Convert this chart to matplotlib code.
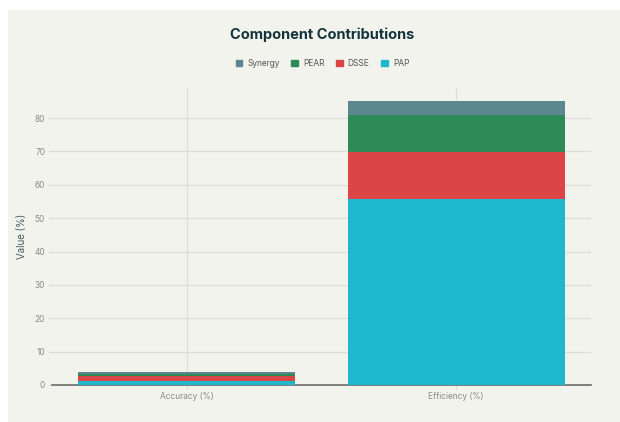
import matplotlib
matplotlib.use("Agg")
import matplotlib.pyplot as plt
import matplotlib.patches as mpatches
import numpy as np

# ── Data ─────────────────────────────────────────────────────────────────────
categories = ["Accuracy (%)", "Efficiency (%)"]
pap     = [1.2, 55.8]
dsse    = [1.4, 14.1]
pear    = [0.8, 11.0]
synergy = [0.4, 4.1]

series = [("PAP", pap), ("DSSE", dsse), ("PEAR", pear), ("Synergy", synergy)]
yticks = [0, 10, 20, 30, 40, 50, 60, 70, 80]

# ── Style ────────────────────────────────────────────────────────────────────
BG     = "#F3F3EE"
COLORS = {"PAP": "#1FB8CD", "DSSE": "#DB4545", "PEAR": "#2E8B57", "Synergy": "#5D878F"}
TITLE  = "#13343B"
TICK   = "#8a8a86"
GRID   = "#dddcd6"

plt.rcParams["font.family"] = ["Inter", "DejaVu Sans"]

fig = plt.figure(figsize=(6.2, 4.22), dpi=100, facecolor="white")

# off-white panel (page crop leaves a white strip on the left and top)
fig.patches.append(mpatches.Rectangle((8 / 620, 0), 1, 1 - 10 / 422,
                                      transform=fig.transFigure,
                                      facecolor=BG, edgecolor="none", zorder=-5))

ax = fig.add_axes([52 / 620, 37 / 422, 539 / 620, 297 / 422])
ax.set_facecolor(BG)
ax.set_zorder(1)

x = np.arange(len(categories))
bottom = np.zeros(len(categories))
for name, vals in series:
    ax.bar(x, vals, width=0.805, bottom=bottom, color=COLORS[name],
           linewidth=0, zorder=3)
    bottom += np.array(vals)

ax.set_xlim(-0.5, 1.5)
ax.set_ylim(0, 89)
ax.set_xticks(x)
ax.set_xticklabels(categories, fontsize=6, color=TICK)
ax.set_yticks(yticks)
ax.set_yticklabels([str(t) for t in yticks], fontsize=6, color=TICK)
ax.tick_params(axis="both", length=3, color=GRID, pad=2)
ax.set_ylabel("Value (%)", fontsize=7, color="#3d5a60", labelpad=5)

ax.grid(True, color=GRID, linewidth=0.8, zorder=0)
ax.set_axisbelow(True)
for side in ["top", "right", "left"]:
    ax.spines[side].set_visible(False)
ax.spines["bottom"].set_color("#6b6b6b")
ax.spines["bottom"].set_linewidth(1.2)

fig.text(0.52, 0.917, "Component Contributions", ha="center", va="center",
         fontsize=10.5, fontweight="bold", color=TITLE)

# legend in order Synergy, PEAR, DSSE, PAP
handles = [mpatches.Patch(color=COLORS[n]) for n in ["Synergy", "PEAR", "DSSE", "PAP"]]
fig.legend(handles, ["Synergy", "PEAR", "DSSE", "PAP"], loc="center",
           bbox_to_anchor=(0.52, 0.85), ncol=4, frameon=False, fontsize=6,
           labelcolor="#555555", handlelength=0.8, handleheight=0.8,
           handletextpad=0.6, columnspacing=1.4)

fig.savefig("out.png", dpi=100, facecolor="white")
